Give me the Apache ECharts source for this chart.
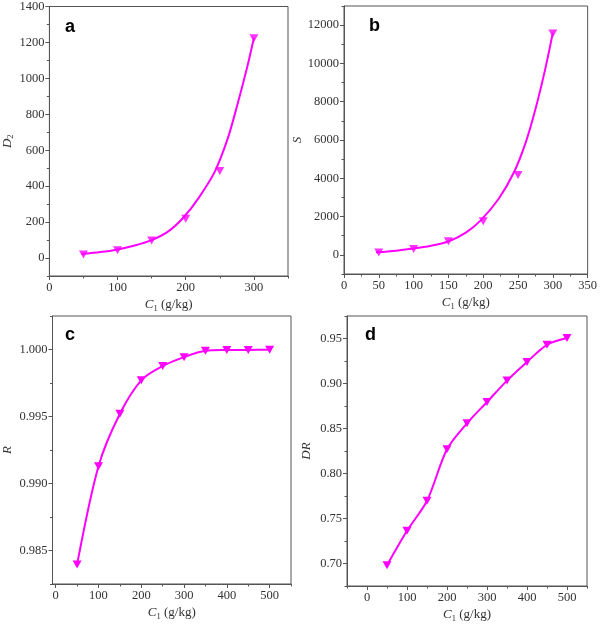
<!DOCTYPE html>
<html><head><meta charset="utf-8">
<script src="https://cdn.jsdelivr.net/npm/echarts@6/dist/echarts.min.js"></script>
<style>html,body{margin:0;padding:0;background:#fff}#c{width:600px;height:624px}</style>
</head><body><div id="c"></div>
<script>
// Panel a: D2 vs C1
const xA = [50, 100, 150, 200, 250, 300];
const d2Vals = [20, 43, 97, 218, 484, 1223];
const fitAx = [47, 75, 100, 125, 150, 175, 197, 219, 243, 262, 276, 290, 300];
const fitAy = [22, 33, 48, 70, 100, 150, 227, 335, 484, 670, 857, 1061, 1225];
// Panel b: S vs C1
const sVals = [120, 312, 708, 1750, 4167, 11563];
const fitBx = [46, 75, 100, 125, 150, 175, 196, 222, 244, 261, 275, 289, 300];
const fitBy = [130, 220, 330, 480, 700, 1160, 1786, 2917, 4302, 5865, 7604, 9688, 11594];
// Panels c, d
const xC = [50, 100, 150, 200, 250, 300, 350, 400, 450, 500];
const rVals = [0.98396, 0.99129, 0.99520, 0.99770, 0.99876, 0.99943, 0.99990, 0.99996, 0.99997, 0.99998];
const drVals = [0.698, 0.7363, 0.7697, 0.8269, 0.8558, 0.8795, 0.9032, 0.924, 0.943, 0.9505];

// tick labels
const ticksAx = [0, 100, 200, 300];
const ticksAy = [0, 200, 400, 600, 800, 1000, 1200, 1400];
const ticksBx = [0, 50, 100, 150, 200, 250, 300, 350];
const ticksBy = [0, 2000, 4000, 6000, 8000, 10000, 12000];
const ticksCx = [0, 100, 200, 300, 400, 500];
const ticksCy = [0.985, 0.990, 0.995, 1.000];
const ticksDx = [0, 100, 200, 300, 400, 500];
const ticksDy = [0.70, 0.75, 0.80, 0.85, 0.90, 0.95];

const minorAx = [50, 150, 250, 350];
const minorAy = [-100, 100, 300, 500, 700, 900, 1100, 1300];
const minorBx = [25, 75, 125, 175, 225, 275, 325];
const minorBy = [-1000, 1000, 3000, 5000, 7000, 9000, 11000, 13000];
const minorCx = [50, 150, 250, 350, 450, 550];
const minorCy = [0.9825, 0.9875, 0.9925, 0.9975, 1.0025];
const minorDx = [-50, 50, 150, 250, 350, 450, 550];
const minorDy = [0.675, 0.725, 0.775, 0.825, 0.875, 0.925, 0.975];

const MAG = '#ff00ff';
const AX = '#555';
const TXT = '#333';
const SERIF = 'Liberation Serif';

const zip = (a, b) => a.map((v, i) => [v, b[i]]);

const rich = {
  i: {fontFamily: SERIF, fontStyle: 'italic', fontSize: 13, lineHeight: 16, color: TXT},
  n: {fontFamily: SERIF, fontSize: 13, lineHeight: 16, color: TXT},
  s: {fontFamily: SERIF, fontSize: 8.5, lineHeight: 9, verticalAlign: 'bottom', color: TXT}
};

const panels = [
  {grid: {left: 44, top: 6, width: 244, height: 270}, letter: 'a', lx: 60, ly: 13,
   x: {min: 0, max: 350, major: ticksAx, minor: minorAx},
   y: {min: -100, max: 1400, major: ticksAy, minor: minorAy, name: '{i|D}{s|2}', gap: 29, fmt: v => String(v)}},
  {grid: {left: 344, top: 6, width: 245, height: 268}, letter: 'b', lx: 364, ly: 12,
   x: {min: 0, max: 350, major: ticksBx, minor: minorBx},
   y: {min: -1000, max: 13000, major: ticksBy, minor: minorBy, name: '{i|S}', gap: 30, fmt: v => String(v)}},
  {grid: {left: 44, top: 316, width: 247, height: 268}, letter: 'c', lx: 60, ly: 321,
   x: {min: -7.5, max: 550, major: ticksCx, minor: minorCx},
   y: {min: 0.9825, max: 1.0025, major: ticksCy, minor: minorCy, name: '{i|R}', gap: 37, fmt: v => v.toFixed(3)}},
  {grid: {left: 347, top: 316, width: 240, height: 270}, letter: 'd', lx: 360, ly: 321,
   x: {min: -50, max: 550, major: ticksDx, minor: minorDx},
   y: {min: 0.675, max: 0.975, major: ticksDy, minor: minorDy, name: '{i|DR}', gap: 32, fmt: v => v.toFixed(2)}}
];

const grid = [], xAxis = [], yAxis = [], title = [];
panels.forEach((p, i) => {
  grid.push(Object.assign({show: true, borderColor: AX, borderWidth: 1, containLabel: false}, p.grid));
  title.push({text: p.letter, left: p.lx, top: p.ly, textStyle: {fontFamily: 'Liberation Sans', fontWeight: 'bold', fontSize: 18, color: '#000'}});
  xAxis.push({
    type: 'value', gridIndex: i, min: p.x.min, max: p.x.max, position: 'bottom',
    name: '{i|C}{s|1}{n| (g/kg)}', nameLocation: 'middle', nameGap: 21,
    nameTextStyle: {rich: rich},
    axisLine: {show: true, onZero: false, lineStyle: {color: AX, width: 1}},
    axisTick: {show: true, customValues: p.x.major, length: 4, lineStyle: {color: AX}},
    axisLabel: {customValues: p.x.major, fontFamily: SERIF, fontSize: 12.5, color: TXT, margin: 5},
    splitLine: {show: false}
  });
  xAxis.push({
    type: 'value', gridIndex: i, min: p.x.min, max: p.x.max, position: 'bottom',
    axisLine: {show: false, onZero: false},
    axisTick: {show: true, customValues: p.x.minor, length: 2.5, lineStyle: {color: AX}},
    axisLabel: {show: false}, splitLine: {show: false}
  });
  yAxis.push({
    type: 'value', gridIndex: i, min: p.y.min, max: p.y.max, position: 'left',
    name: p.y.name, nameLocation: 'middle', nameGap: p.y.gap, nameRotate: 90,
    nameTextStyle: {rich: rich},
    axisLine: {show: true, onZero: false, lineStyle: {color: AX, width: 1}},
    axisTick: {show: true, customValues: p.y.major, length: 4, lineStyle: {color: AX}},
    axisLabel: {customValues: p.y.major, fontFamily: SERIF, fontSize: 12.5, color: TXT, margin: 5, formatter: p.y.fmt},
    splitLine: {show: false}
  });
  yAxis.push({
    type: 'value', gridIndex: i, min: p.y.min, max: p.y.max, position: 'left',
    axisLine: {show: false, onZero: false},
    axisTick: {show: true, customValues: p.y.minor, length: 2.5, lineStyle: {color: AX}},
    axisLabel: {show: false}, splitLine: {show: false}
  });
});

const marker = {symbol: 'triangle', symbolRotate: 180, symbolSize: [9, 8], itemStyle: {color: MAG}};

const series = [
  {type: 'line', xAxisIndex: 0, yAxisIndex: 0, data: zip(fitAx, fitAy), smooth: 0.3, showSymbol: false, lineStyle: {color: MAG, width: 2}, z: 2},
  Object.assign({type: 'scatter', xAxisIndex: 0, yAxisIndex: 0, data: zip(xA, d2Vals), z: 3}, marker),
  {type: 'line', xAxisIndex: 2, yAxisIndex: 2, data: zip(fitBx, fitBy), smooth: 0.3, showSymbol: false, lineStyle: {color: MAG, width: 2}, z: 2},
  Object.assign({type: 'scatter', xAxisIndex: 2, yAxisIndex: 2, data: zip(xA, sVals), z: 3}, marker),
  Object.assign({type: 'line', xAxisIndex: 4, yAxisIndex: 4, data: zip(xC, rVals), smooth: 0.3, showSymbol: true, lineStyle: {color: MAG, width: 2}}, marker),
  Object.assign({type: 'line', xAxisIndex: 6, yAxisIndex: 6, data: zip(xC, drVals), smooth: 0.3, showSymbol: true, lineStyle: {color: MAG, width: 2}}, marker)
];

const chart = echarts.init(document.getElementById('c'), null, {renderer: 'canvas'});
chart.setOption({animation: false, backgroundColor: '#fff', title, grid, xAxis, yAxis, series});
</script>
</body></html>
